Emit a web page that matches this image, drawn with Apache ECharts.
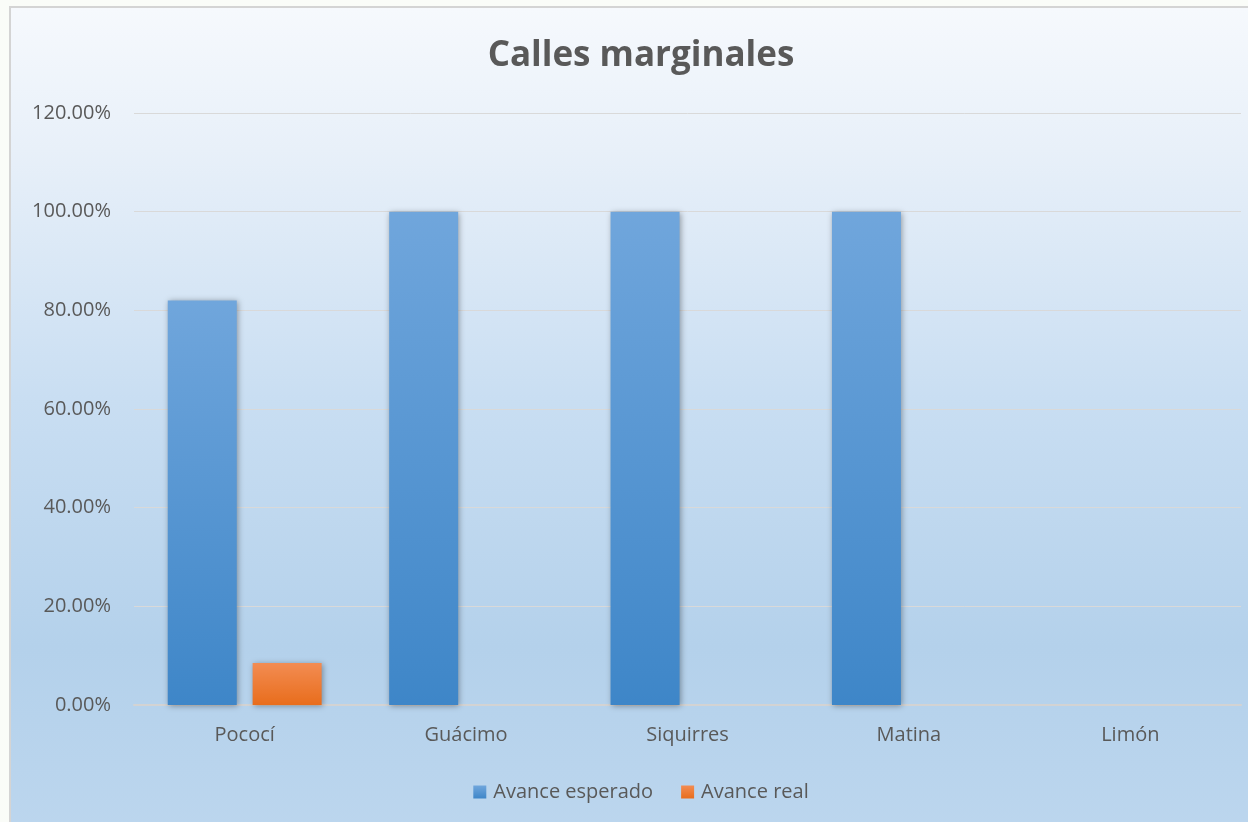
<!DOCTYPE html>
<html>
<head>
<meta charset="utf-8">
<script src="https://cdn.jsdelivr.net/npm/echarts@6/dist/echarts.min.js"></script>
<style>
  html, body { margin: 0; padding: 0; width: 1248px; height: 822px; overflow: hidden; background: #fafcf8; }
  #chart { position: absolute; left: 9px; top: 6px; width: 1260px; height: 830px; border: 2px solid #d4d4d4; }
</style>
</head>
<body>
<div id="chart"></div>
<script>
const categories = ['Pococí', 'Guácimo', 'Siquirres', 'Matina', 'Limón']
const avanceEsperado = [0.82, 1.0, 1.0, 1.0, 0]
const avanceReal = [0.085, 0, 0, 0, 0]
const yTicks = { min: 0, max: 1.2, step: 0.2 }

const chart = echarts.init(document.getElementById('chart'))

// degradado vertical de las barras
const barFill = (top, bottom) => new echarts.graphic.LinearGradient(0, 0, 0, 1, [
  { offset: 0, color: top },
  { offset: 1, color: bottom }
])

const option = {
  backgroundColor: new echarts.graphic.LinearGradient(0, 0, 0, 1, [
    { offset: 0, color: '#f6f9fd' },
    { offset: 0.17, color: '#e8f0f9' },
    { offset: 0.47, color: '#c9def2' },
    { offset: 0.77, color: '#b4d1eb' },
    { offset: 1, color: '#bcd6ee' }
  ]),
  animation: false,
  textStyle: { fontFamily: 'Open Sans' },
  title: {
    text: 'Calles marginales',
    left: 'center',
    top: 26,
    textStyle: { fontSize: 35, fontWeight: 'bold', color: '#595959', fontFamily: 'Open Sans' }
  },
  legend: {
    data: ['Avance esperado', 'Avance real'],
    left: 'center',
    top: 769,
    itemWidth: 13,
    itemHeight: 13,
    itemGap: 28,
    icon: 'rect',
    textStyle: { fontSize: 20, color: '#595959', padding: [0, 0, 0, 2] }
  },
  grid: { left: 123, top: 105, width: 1107, height: 592, containLabel: false },
  xAxis: {
    type: 'category',
    data: categories,
    axisLine: { lineStyle: { color: '#d3d3d3', width: 2 } },
    axisTick: { show: false },
    axisLabel: { fontSize: 20, color: '#595959', margin: 20 }
  },
  yAxis: {
    type: 'value',
    min: yTicks.min,
    max: yTicks.max,
    interval: yTicks.step,
    axisLine: { show: false },
    axisTick: { show: false },
    splitLine: { lineStyle: { color: '#d9d9d9', width: 1 } },
    axisLabel: {
      fontSize: 20,
      color: '#595959',
      margin: 23,
      formatter: v => (v * 100).toFixed(2) + '%'
    }
  },
  series: [
    {
      name: 'Avance esperado',
      type: 'bar',
      data: avanceEsperado,
      barWidth: 69,
      barGap: '23%',
      itemStyle: {
        color: barFill('#70a6dc', '#3e86c8'),
        shadowColor: 'rgba(0,0,0,0.35)',
        shadowBlur: 6,
        shadowOffsetX: 1,
        shadowOffsetY: 1
      }
    },
    {
      name: 'Avance real',
      type: 'bar',
      data: avanceReal,
      barWidth: 69,
      barGap: '23%',
      itemStyle: {
        color: barFill('#f38c52', '#e86d1c'),
        shadowColor: 'rgba(0,0,0,0.35)',
        shadowBlur: 6,
        shadowOffsetX: 1,
        shadowOffsetY: 1
      }
    }
  ]
}

chart.setOption(option)
</script>
</body>
</html>
